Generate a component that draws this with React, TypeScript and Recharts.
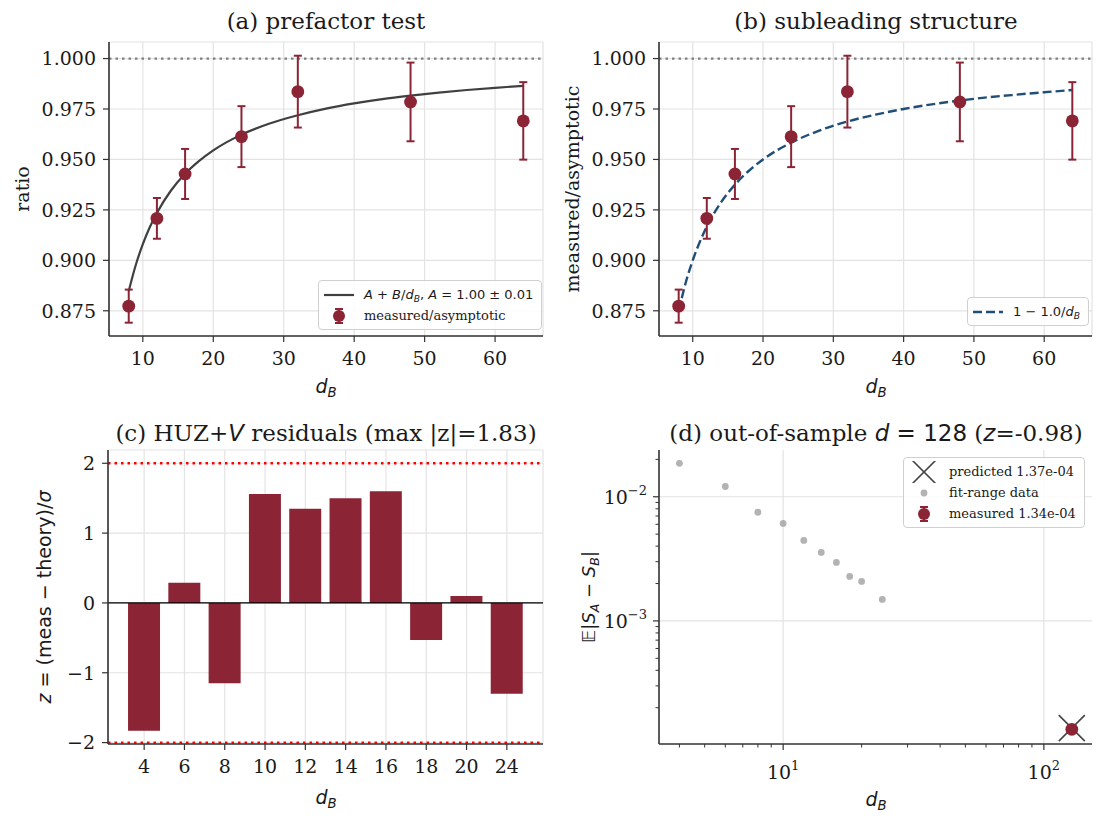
import React from 'react'
import {
  Bar,
  BarChart,
  CartesianGrid,
  ComposedChart,
  ErrorBar,
  Legend,
  Line,
  ReferenceLine,
  Scatter,
  ScatterChart,
  XAxis,
  YAxis,
} from 'recharts'

// measured/asymptotic ratio vs d_B, panels (a) and (b)
const dB = [8, 12, 16, 24, 32, 48, 64]
const ratio = [0.8773, 0.9208, 0.9428, 0.9613, 0.9836, 0.9785, 0.9691]
const ratioErr = [0.0082, 0.0101, 0.0124, 0.0151, 0.0178, 0.0195, 0.0192]

// sampled curves: fit A + B/d_B and theory 1 - 1.0/d_B
const curveD = [8, 9, 10, 11, 12, 14, 16, 18, 20, 24, 28, 32, 36, 40, 44, 48, 52, 56, 60, 64]
const fitCurve = [
  0.8848, 0.8977, 0.908, 0.9165, 0.9235, 0.9346, 0.9429, 0.9493, 0.9545, 0.9623,
  0.9678, 0.9719, 0.9752, 0.9778, 0.9799, 0.9816, 0.9831, 0.9844, 0.9855, 0.9865,
]
const theoryCurve = [
  0.875, 0.8889, 0.9, 0.9091, 0.9167, 0.9286, 0.9375, 0.9444, 0.95, 0.9583,
  0.9643, 0.9688, 0.9722, 0.975, 0.9773, 0.9792, 0.9808, 0.9821, 0.9833, 0.9844,
]

// residuals, panel (c)
const residualD = ['4', '6', '8', '10', '12', '14', '16', '18', '20', '24']
const residualZ = [-1.83, 0.29, -1.15, 1.56, 1.35, 1.5, 1.6, -0.53, 0.1, -1.3]

// out-of-sample check, panel (d)
const fitRangeD = [4, 6, 8, 10, 12, 14, 16, 18, 20, 24]
const fitRangeS = [0.0186, 0.0121, 0.0075, 0.0061, 0.00445, 0.00356, 0.00296, 0.00228, 0.00208, 0.00149]
const outD = 128
const predictedS = 1.37e-4
const measuredS = 1.34e-4

const ratioTicks = [0.875, 0.9, 0.925, 0.95, 0.975, 1.0]
const dTicks = [10, 20, 30, 40, 50, 60]
const zTicks = [-2, -1, 0, 1, 2]
const logXTicks = [4, 5, 6, 7, 8, 9, 10, 20, 30, 40, 50, 60, 70, 80, 90, 100]
const logYTicks = [
  2e-4, 3e-4, 4e-4, 5e-4, 6e-4, 7e-4, 8e-4, 9e-4, 1e-3,
  2e-3, 3e-3, 4e-3, 5e-3, 6e-3, 7e-3, 8e-3, 9e-3, 1e-2, 2e-2,
]

const RED = '#8b2535'
const FIT = '#404040'
const BLUE = '#1f4e79'
const AXIS = '#333333'
const INK = '#1a1a1a'
const GRID = '#e3e3e3'
const SERIF = "'DejaVu Serif', serif"
const SANS = "'DejaVu Sans', sans-serif"

const TICK = 19
const TICK_SIZE = 6
const Y_TICK_MARGIN = 7
const X_TICK_MARGIN = 10

const pointRows = dB.map((d, i) => ({ d, v: ratio[i], err: ratioErr[i] }))
const fitRows = curveD.map((d, i) => ({ d, v: fitCurve[i] }))
const theoryRows = curveD.map((d, i) => ({ d, v: theoryCurve[i] }))
const residualRows = residualD.map((d, i) => ({ d, z: residualZ[i] }))
const fitRangeRows = fitRangeD.map((d, i) => ({ d, s: fitRangeS[i] }))
const predictedRows = [{ d: outD, s: predictedS }]
const measuredRows = [{ d: outD, s: measuredS }]

const axisProps = {
  axisLine: { stroke: AXIS, strokeWidth: 1.6 },
  tickLine: { stroke: AXIS, strokeWidth: 1.2 },
  tickSize: TICK_SIZE,
  tick: { fontSize: TICK, fontFamily: SERIF, fill: INK },
}

/* ---------- small text helpers ---------- */

function V({ children }: { children: React.ReactNode }) {
  return <span style={{ fontFamily: SANS, fontStyle: 'italic' }}>{children}</span>
}

function Sub({ children }: { children: React.ReactNode }) {
  return (
    <span style={{ fontSize: '70%', position: 'relative', top: '0.3em' }}>{children}</span>
  )
}

const DB = () => (
  <>
    <V>d</V>
    <Sub>
      <V>B</V>
    </Sub>
  </>
)

function Abs({
  x,
  y,
  rotate,
  size,
  family = SERIF,
  children,
}: {
  x: number
  y: number
  rotate?: boolean
  size: number
  family?: string
  children: React.ReactNode
}) {
  return (
    <div
      style={{
        position: 'absolute',
        left: x,
        top: y,
        transform: `translate(-50%, -50%)${rotate ? ' rotate(-90deg)' : ''}`,
        whiteSpace: 'nowrap',
        fontSize: size,
        fontFamily: family,
        color: INK,
        lineHeight: 1,
      }}
    >
      {children}
    </div>
  )
}

/* ---------- markers ---------- */

const Dot = (props: any) => <circle cx={props.cx} cy={props.cy} r={6.4} fill={RED} />
const GreyDot = (props: any) => (
  <circle cx={props.cx} cy={props.cy} r={3.4} fill="#9a9a9a" fillOpacity={0.75} />
)
const Cross = (props: any) => {
  const { cx, cy } = props
  const h = 13
  return (
    <g stroke="#444" strokeWidth={1.6}>
      <line x1={cx - h} y1={cy - h} x2={cx + h} y2={cy + h} />
      <line x1={cx - h} y1={cy + h} x2={cx + h} y2={cy - h} />
    </g>
  )
}

const ErrIcon = () => (
  <svg width={20} height={20}>
    <line x1={10} x2={10} y1={3} y2={17} stroke={RED} strokeWidth={2} />
    <line x1={6} x2={14} y1={3} y2={3} stroke={RED} strokeWidth={2} />
    <line x1={6} x2={14} y1={17} y2={17} stroke={RED} strokeWidth={2} />
    <circle cx={10} cy={10} r={6} fill={RED} />
  </svg>
)

/* ---------- legends ---------- */

const legendBox: React.CSSProperties = {
  border: '1.3px solid #d0d0d0',
  borderRadius: 4,
  background: 'rgba(255,255,255,0.85)',
  padding: '3px 8px 3px 5px',
  fontSize: 13,
  color: INK,
  lineHeight: 1,
}
const row: React.CSSProperties = { display: 'flex', alignItems: 'center', height: 21, gap: 10 }
const iconCell: React.CSSProperties = {
  width: 30,
  display: 'flex',
  justifyContent: 'center',
  alignItems: 'center',
}

const LegendA = () => (
  <div style={legendBox}>
    <div style={row}>
      <span style={iconCell}>
        <svg width={30} height={10}>
          <line x1={0} x2={30} y1={5} y2={5} stroke={FIT} strokeWidth={2.2} />
        </svg>
      </span>
      <span style={{ fontFamily: SANS }}>
        <V>A</V> + <V>B</V>/<DB />, <V>A</V> = 1.00 ± 0.01
      </span>
    </div>
    <div style={row}>
      <span style={iconCell}>
        <ErrIcon />
      </span>
      <span style={{ fontFamily: SERIF }}>measured/asymptotic</span>
    </div>
  </div>
)

const LegendB = () => (
  <div style={legendBox}>
    <div style={row}>
      <span style={iconCell}>
        <svg width={30} height={10}>
          <line x1={0} x2={30} y1={5} y2={5} stroke={BLUE} strokeWidth={2.4} strokeDasharray="9 4" />
        </svg>
      </span>
      <span style={{ fontFamily: SANS }}>
        1 − 1.0/<DB />
      </span>
    </div>
  </div>
)

const LegendD = () => (
  <div style={{ ...legendBox, fontFamily: SERIF }}>
    <div style={row}>
      <span style={iconCell}>
        <svg width={26} height={22}>
          <g stroke="#444" strokeWidth={1.6}>
            <line x1={1} y1={-1} x2={25} y2={23} />
            <line x1={1} y1={23} x2={25} y2={-1} />
          </g>
        </svg>
      </span>
      <span>predicted 1.37e-04</span>
    </div>
    <div style={row}>
      <span style={iconCell}>
        <svg width={10} height={10}>
          <circle cx={5} cy={5} r={3.4} fill="#9a9a9a" fillOpacity={0.75} />
        </svg>
      </span>
      <span>fit-range data</span>
    </div>
    <div style={row}>
      <span style={iconCell}>
        <ErrIcon />
      </span>
      <span>measured 1.34e-04</span>
    </div>
  </div>
)

/* ---------- log axis ticks ---------- */

const isDecade = (v: number) => Math.abs(Math.log10(v) - Math.round(Math.log10(v))) < 1e-9
const expOf = (v: number) => {
  const e = Math.round(Math.log10(v))
  return e < 0 ? `−${-e}` : `${e}`
}

const LogXTick = (props: any) => {
  const { x, y, payload } = props
  const v = payload.value
  const major = isDecade(v)
  const y0 = y - TICK_SIZE - X_TICK_MARGIN
  return (
    <g>
      <line x1={x} x2={x} y1={y0} y2={y0 + (major ? 6 : 3.5)} stroke={AXIS} strokeWidth={major ? 1.2 : 1} />
      {major && (
        <text x={x} y={y0 + 35} textAnchor="middle" fontFamily={SERIF} fontSize={TICK} fill={INK}>
          10
          <tspan dy={-9} fontSize={13}>
            {expOf(v)}
          </tspan>
        </text>
      )}
    </g>
  )
}

const LogYTick = (props: any) => {
  const { x, y, payload } = props
  const v = payload.value
  const major = isDecade(v)
  const x0 = x + TICK_SIZE + Y_TICK_MARGIN
  return (
    <g>
      <line x1={x0} x2={x0 - (major ? 6 : 3.5)} y1={y} y2={y} stroke={AXIS} strokeWidth={major ? 1.2 : 1} />
      {major && (
        <text x={x0 - 12} y={y + 7} textAnchor="end" fontFamily={SERIF} fontSize={TICK} fill={INK}>
          10
          <tspan dy={-9} fontSize={13}>
            {expOf(v)}
          </tspan>
        </text>
      )}
    </g>
  )
}

/* ---------- panels ---------- */

const noOffsetLegend = { layout: 'horizontal', verticalAlign: 'middle', align: 'center' } as const

function RatioPanel({ variant }: { variant: 'a' | 'b' }) {
  const yw = variant === 'a' ? 109 : 99
  const width = variant === 'a' ? 560 : 546
  const right = variant === 'a' ? 17 : 14
  return (
    <ComposedChart
      width={width}
      height={410}
      margin={{ top: 42, right, bottom: 34, left: 0 }}
    >
      <CartesianGrid stroke={GRID} strokeWidth={1.2} />
      <XAxis
        type="number"
        dataKey="d"
        domain={[5.2, 66.8]}
        ticks={dTicks}
        allowDataOverflow
        height={40}
        tickMargin={X_TICK_MARGIN}
        {...axisProps}
      />
      <YAxis
        type="number"
        domain={[0.8625, 1.0082]}
        ticks={ratioTicks}
        allowDataOverflow
        width={yw}
        tickMargin={Y_TICK_MARGIN}
        tickFormatter={(v: number) => v.toFixed(3)}
        {...axisProps}
      />
      <ReferenceLine y={1} stroke="#808080" strokeWidth={2.2} strokeDasharray="2.5 4" />
      {variant === 'a' ? (
        <Line
          data={fitRows}
          dataKey="v"
          type="monotone"
          stroke={FIT}
          strokeWidth={2.2}
          dot={false}
          isAnimationActive={false}
        />
      ) : (
        <Line
          data={theoryRows}
          dataKey="v"
          type="monotone"
          stroke={BLUE}
          strokeWidth={2.4}
          strokeDasharray="9 4"
          dot={false}
          isAnimationActive={false}
        />
      )}
      <Scatter data={pointRows} dataKey="v" shape={Dot} isAnimationActive={false}>
        <ErrorBar dataKey="err" direction="y" width={4} stroke={RED} strokeWidth={2} />
      </Scatter>
      <Legend
        {...noOffsetLegend}
        content={variant === 'a' ? LegendA : LegendB}
        wrapperStyle={
          variant === 'a'
            ? { left: 318, top: 280, width: 'auto' }
            : { left: 407, top: 297, width: 'auto' }
        }
      />
    </ComposedChart>
  )
}

function ResidualPanel() {
  return (
    <BarChart
      width={560}
      height={415}
      data={residualRows}
      margin={{ top: 40, right: 17, bottom: 41, left: 0 }}
      barCategoryGap="10%"
    >
      <CartesianGrid stroke={GRID} strokeWidth={1.2} />
      <XAxis
        dataKey="d"
        type="category"
        height={40}
        padding={{ left: 16, right: 16 }}
        interval={0}
        tickMargin={X_TICK_MARGIN}
        {...axisProps}
      />
      <YAxis
        type="number"
        domain={[-2.02, 2.19]}
        ticks={zTicks}
        allowDataOverflow
        width={108}
        tickMargin={Y_TICK_MARGIN}
        tickFormatter={(v: number) => (v < 0 ? `−${-v}` : `${v}`)}
        {...axisProps}
      />
      <Bar dataKey="z" fill={RED} isAnimationActive={false} />
      <ReferenceLine y={0} stroke="#000" strokeWidth={1.2} />
      <ReferenceLine y={2} stroke="#ff0000" strokeWidth={2.4} strokeDasharray="2.5 4" />
      <ReferenceLine y={-2} stroke="#ff0000" strokeWidth={2.4} strokeDasharray="2.5 4" />
    </BarChart>
  )
}

function OutOfSamplePanel() {
  return (
    <ScatterChart width={546} height={415} margin={{ top: 40, right: 14, bottom: 41, left: 0 }}>
      <ReferenceLine x={10} stroke={GRID} strokeWidth={1.2} />
      <ReferenceLine x={100} stroke={GRID} strokeWidth={1.2} />
      <ReferenceLine y={1e-2} stroke={GRID} strokeWidth={1.2} />
      <ReferenceLine y={1e-3} stroke={GRID} strokeWidth={1.2} />
      <XAxis
        type="number"
        dataKey="d"
        scale="log"
        domain={[3.34, 153]}
        ticks={logXTicks}
        interval={0}
        allowDataOverflow
        height={40}
        tickMargin={X_TICK_MARGIN}
        {...axisProps}
        tickLine={false}
        tick={LogXTick}
      />
      <YAxis
        type="number"
        dataKey="s"
        scale="log"
        domain={[1.02e-4, 0.0238]}
        ticks={logYTicks}
        interval={0}
        allowDataOverflow
        width={99}
        tickMargin={Y_TICK_MARGIN}
        {...axisProps}
        tickLine={false}
        tick={LogYTick}
      />
      <Scatter data={fitRangeRows} shape={GreyDot} isAnimationActive={false} />
      <Scatter data={predictedRows} shape={Cross} isAnimationActive={false} />
      <Scatter data={measuredRows} shape={Dot} isAnimationActive={false} />
      <Legend {...noOffsetLegend} content={LegendD} wrapperStyle={{ left: 343, top: 47, width: 'auto' }} />
    </ScatterChart>
  )
}

export default function App() {
  const place = (left: number, top: number): React.CSSProperties => ({ position: 'absolute', left, top })
  return (
    <div
      style={{
        position: 'absolute',
        left: 0,
        top: 0,
        width: 1106,
        height: 825,
        background: '#fff',
        fontFamily: SERIF,
        overflow: 'hidden',
      }}
    >
      <div style={place(0, 0)}>
        <RatioPanel variant="a" />
      </div>
      <div style={place(560, 0)}>
        <RatioPanel variant="b" />
      </div>
      <div style={place(0, 410)}>
        <ResidualPanel />
      </div>
      <div style={place(560, 410)}>
        <OutOfSamplePanel />
      </div>

      {/* titles */}
      <Abs x={326} y={21} size={23}>
        (a) prefactor test
      </Abs>
      <Abs x={876} y={21} size={23}>
        (b) subleading structure
      </Abs>
      <Abs x={326} y={433} size={23}>
        (c) HUZ+<V>V</V> residuals (max |z|=1.83)
      </Abs>
      <Abs x={876} y={433} size={23}>
        (d) out-of-sample{' '}
        <span style={{ fontFamily: SANS }}>
          <V>d</V> = 128
        </span>{' '}
        (<V>z</V>=-0.98)
      </Abs>

      {/* axis labels */}
      <Abs x={22} y={189} size={19} rotate>
        ratio
      </Abs>
      <Abs x={572} y={189} size={19} rotate>
        measured/asymptotic
      </Abs>
      <Abs x={44} y={597} size={19} rotate family={SANS}>
        <V>z</V> = (meas − theory)/<V>σ</V>
      </Abs>
      <Abs x={589} y={597} size={18} rotate family={SANS}>
        <V>𝔼</V>|<V>S</V>
        <Sub>
          <V>A</V>
        </Sub>{' '}
        − <V>S</V>
        <Sub>
          <V>B</V>
        </Sub>
        |
      </Abs>
      <Abs x={326} y={386} size={19}>
        <DB />
      </Abs>
      <Abs x={876} y={386} size={19}>
        <DB />
      </Abs>
      <Abs x={326} y={797} size={19}>
        <DB />
      </Abs>
      <Abs x={876} y={799} size={19}>
        <DB />
      </Abs>
    </div>
  )
}
